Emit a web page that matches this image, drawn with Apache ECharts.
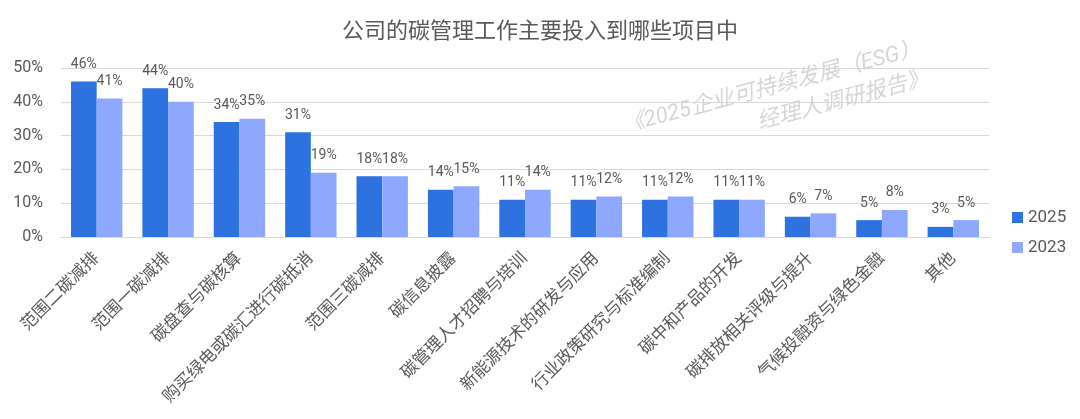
<!DOCTYPE html>
<html><head><meta charset="utf-8">
<script src="https://cdn.jsdelivr.net/npm/echarts@6/dist/echarts.min.js"></script>
<style>html,body{margin:0;padding:0;background:#fff}#c{width:1080px;height:419px}</style>
</head><body><div id="c"></div>
<script>
const categories = ['范围二碳减排','范围一碳减排','碳盘查与碳核算','购买绿电或碳汇进行碳抵消','范围三碳减排','碳信息披露','碳管理人才招聘与培训','新能源技术的研发与应用','行业政策研究与标准编制','碳中和产品的开发','碳排放相关评级与提升','气候投融资与绿色金融','其他'];
const values2025 = [46,44,34,31,18,14,11,11,11,11,6,5,3];
const values2023 = [41,40,35,19,18,15,14,12,12,11,7,8,5];
const yTicks = [0,10,20,30,40,50];
const titleText = '公司的碳管理工作主要投入到哪些项目中';
const watermark1 = '《2025企业可持续发展（ESG）';
const watermark2 = '经理人调研报告》';

const font = 'Roboto,"Noto Sans CJK SC",sans-serif';
const chart = echarts.init(document.getElementById('c'));
chart.setOption({
  animation:false,
  textStyle:{fontFamily:font},
  title:{text:titleText,left:'center',top:16,textStyle:{fontSize:22,fontWeight:'normal',color:'#595959',fontFamily:font}},
  grid:{left:61,right:91,top:68,bottom:182},
  legend:{orient:'vertical',left:1012,top:209,padding:0,itemWidth:11,itemHeight:11,itemGap:13,icon:'rect',
    textStyle:{fontSize:17,color:'#595959',fontFamily:font},data:['2025','2023']},
  xAxis:{type:'category',data:categories,
    axisLine:{lineStyle:{color:'#d9d9d9'}},axisTick:{show:false},
    axisLabel:{rotate:45,interval:0,fontSize:17,color:'#595959',margin:19,fontFamily:font}},
  yAxis:{type:'value',min:yTicks[0],max:yTicks[yTicks.length-1],interval:10,
    axisLabel:{formatter:'{value}%',fontSize:16,color:'#595959',margin:18,fontFamily:font},
    splitLine:{lineStyle:{color:'#d9d9d9'}},axisLine:{show:false},axisTick:{show:false}},
  series:[
    {name:'2025',type:'bar',data:values2025,barGap:'0%',barCategoryGap:'28%',itemStyle:{color:'#2E72E0'},
     label:{show:true,position:'top',formatter:'{c}%',color:'#595959',fontSize:14,distance:10,fontFamily:font}},
    {name:'2023',type:'bar',data:values2023,itemStyle:{color:'#8DA8FE'},
     label:{show:true,position:'top',formatter:'{c}%',color:'#595959',fontSize:14,distance:10,fontFamily:font}}
  ],
  graphic:[
    {type:'text',x:772,y:88,rotation:0.257,z:100,silent:true,
     style:{text:watermark1,fontSize:22,fontStyle:'italic',fill:'#d6d6d6',align:'center',verticalAlign:'middle',fontFamily:font}},
    {type:'text',x:843,y:101,rotation:0.257,z:100,silent:true,
     style:{text:watermark2,fontSize:22,fontStyle:'italic',fill:'#d6d6d6',align:'center',verticalAlign:'middle',fontFamily:font}}
  ]
});
</script></body></html>
